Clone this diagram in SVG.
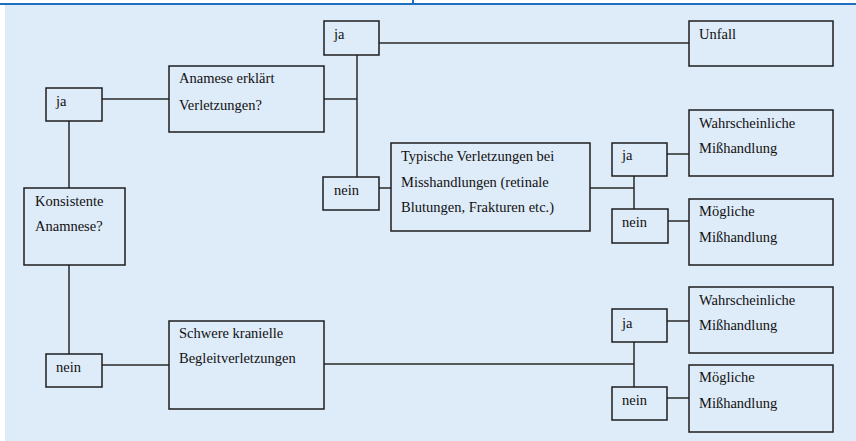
<svg xmlns="http://www.w3.org/2000/svg" width="856" height="441" viewBox="0 0 856 441">
<style>
.box{fill:none;stroke:#1e1e1e;stroke-width:1.5}
.c line{stroke:#2a2a2a;stroke-width:1.5}
text{font-family:'Liberation Serif','Times New Roman','DejaVu Serif',serif;font-size:14.5px;fill:#111}
</style>
<rect x="0" y="0" width="856" height="441" fill="#ffffff"/>
<rect x="5" y="4" width="851" height="437" fill="#deebf8"/>
<line x1="0" y1="4" x2="856" y2="4" stroke="#1f6fc0" stroke-width="2"/>
<line x1="413" y1="0" x2="413" y2="4" stroke="#1f6fc0" stroke-width="2"/>
<g class="c" id="connectors">
<line x1="102" y1="99" x2="169" y2="99"/>
<line x1="69" y1="121" x2="69" y2="188"/>
<line x1="69" y1="265" x2="69" y2="354"/>
<line x1="102" y1="365" x2="169" y2="365"/>
<line x1="324" y1="99" x2="357" y2="99"/>
<line x1="357" y1="55" x2="357" y2="177"/>
<line x1="379" y1="43" x2="689" y2="43"/>
<line x1="379" y1="188" x2="391" y2="188"/>
<line x1="590" y1="188" x2="634" y2="188"/>
<line x1="634" y1="176" x2="634" y2="209"/>
<line x1="667" y1="154" x2="689" y2="154"/>
<line x1="668" y1="221" x2="689" y2="221"/>
<line x1="324" y1="364" x2="634" y2="364"/>
<line x1="634" y1="342" x2="634" y2="387"/>
<line x1="667" y1="321" x2="689" y2="321"/>
<line x1="667" y1="398" x2="689" y2="398"/>
</g>
<g font-family="Liberation Serif, Times New Roman, serif">
<g id="ja1"><rect class="box" x="46" y="88" width="56" height="33"/><text x="56" y="106">ja</text></g>
<g id="anamese"><rect class="box" x="169" y="66" width="155" height="66"/><text x="179" y="83">Anamese erklärt</text><text x="179" y="110">Verletzungen?</text></g>
<g id="konsistente"><rect class="box" x="24" y="188" width="101" height="77"/><text x="35" y="206">Konsistente</text><text x="35" y="231">Anamnese?</text></g>
<g id="nein1"><rect class="box" x="46" y="354" width="56" height="33"/><text x="56" y="372">nein</text></g>
<g id="schwere"><rect class="box" x="169" y="321" width="155" height="88"/><text x="179" y="338">Schwere kranielle</text><text x="179" y="363">Begleitverletzungen</text></g>
<g id="ja2"><rect class="box" x="324" y="21" width="55" height="34"/><text x="334" y="39">ja</text></g>
<g id="unfall"><rect class="box" x="689" y="21" width="144" height="45"/><text x="699" y="39">Unfall</text></g>
<g id="nein2"><rect class="box" x="323" y="177" width="56" height="33"/><text x="334" y="195">nein</text></g>
<g id="typische"><rect class="box" x="391" y="143" width="199" height="88"/><text x="401" y="161">Typische Verletzungen bei</text><text x="401" y="187">Misshandlungen (retinale</text><text x="401" y="212">Blutungen, Frakturen etc.)</text></g>
<g id="ja3"><rect class="box" x="612" y="143" width="55" height="33"/><text x="622" y="160">ja</text></g>
<g id="nein3"><rect class="box" x="612" y="209" width="56" height="34"/><text x="622" y="227">nein</text></g>
<g id="wahr1"><rect class="box" x="689" y="110" width="144" height="66"/><text x="699" y="128">Wahrscheinliche</text><text x="699" y="153">Mißhandlung</text></g>
<g id="moeg1"><rect class="box" x="689" y="199" width="144" height="66"/><text x="699" y="216">Mögliche</text><text x="699" y="242">Mißhandlung</text></g>
<g id="ja4"><rect class="box" x="612" y="309" width="55" height="33"/><text x="622" y="328">ja</text></g>
<g id="nein4"><rect class="box" x="612" y="387" width="55" height="33"/><text x="622" y="405">nein</text></g>
<g id="wahr2"><rect class="box" x="689" y="287" width="144" height="66"/><text x="699" y="305">Wahrscheinliche</text><text x="699" y="330">Mißhandlung</text></g>
<g id="moeg2"><rect class="box" x="689" y="365" width="144" height="67"/><text x="699" y="382">Mögliche</text><text x="699" y="408">Mißhandlung</text></g>
</g>
</svg>
